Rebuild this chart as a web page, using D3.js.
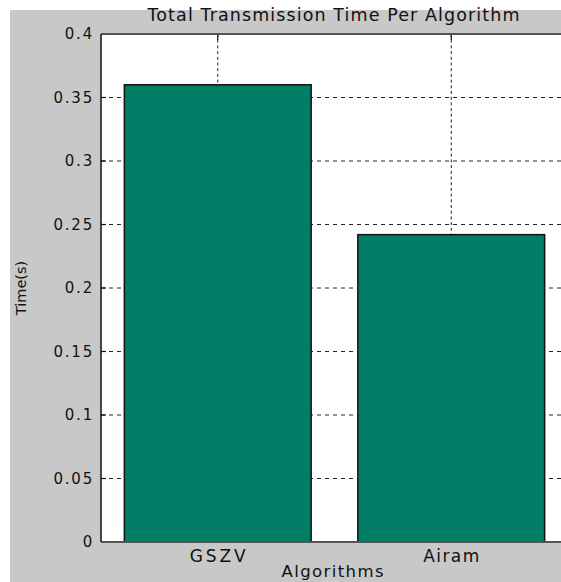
<!DOCTYPE html>
<html>
<head>
<meta charset="utf-8">
<script src="https://cdn.jsdelivr.net/npm/d3@7"></script>
<style>
  html, body { margin: 0; padding: 0; background: #fff; }
  svg { display: block; }
</style>
</head>
<body>
<div id="root"></div>
<script>
const categories = ['GSZV', 'Airam'];
const times = [0.36, 0.242];
const yTicks = [0, 0.05, 0.1, 0.15, 0.2, 0.25, 0.3, 0.35, 0.4];
const yTickLabels = ['0', '0.05', '0.1', '0.15', '0.2', '0.25', '0.3', '0.35', '0.4'];

const dimensions = {
  width: 561,
  height: 582,
  margin: { top: 34, right: -7, bottom: 40, left: 101 },
};
dimensions.boundedWidth =
  dimensions.width - (dimensions.margin.left + dimensions.margin.right);
dimensions.boundedHeight =
  dimensions.height - (dimensions.margin.top + dimensions.margin.bottom);

const xScale = d3
  .scaleBand()
  .domain(categories)
  .range([0, dimensions.boundedWidth])
  .paddingInner(0.2)
  .paddingOuter(0.1);

const yScale = d3
  .scaleLinear()
  .domain([0, 0.4])
  .range([dimensions.boundedHeight, 0]);

const wrapper = d3
  .select('#root')
  .append('svg')
  .attr('width', dimensions.width)
  .attr('height', dimensions.height)
  .attr('viewBox', [0, 0, dimensions.width, dimensions.height]);

// figure background
wrapper
  .append('rect')
  .attr('x', 10)
  .attr('y', 10)
  .attr('width', dimensions.width - 10)
  .attr('height', dimensions.height - 10)
  .attr('fill', '#c8c8c8');

const bounds = wrapper
  .append('g')
  .attr('transform', `translate(${dimensions.margin.left},${dimensions.margin.top})`);

bounds
  .append('rect')
  .attr('width', dimensions.boundedWidth)
  .attr('height', dimensions.boundedHeight)
  .attr('fill', '#fff');

// grid
const gridGroup = bounds.append('g');
gridGroup
  .selectAll('line.hgrid')
  .data(yTicks.slice(1, -1))
  .join('line')
  .attr('class', 'hgrid')
  .attr('x1', 0)
  .attr('x2', dimensions.boundedWidth)
  .attr('y1', d => yScale(d))
  .attr('y2', d => yScale(d))
  .attr('stroke', '#222')
  .attr('stroke-width', 1)
  .attr('stroke-dasharray', '4,4');

gridGroup
  .selectAll('line.vgrid')
  .data(categories)
  .join('line')
  .attr('class', 'vgrid')
  .attr('x1', d => xScale(d) + xScale.bandwidth() / 2)
  .attr('x2', d => xScale(d) + xScale.bandwidth() / 2)
  .attr('y1', 0)
  .attr('y2', dimensions.boundedHeight)
  .attr('stroke', '#222')
  .attr('stroke-width', 1)
  .attr('stroke-dasharray', '3,2.7');

// bars
bounds
  .selectAll('rect.bar')
  .data(categories)
  .join('rect')
  .attr('class', 'bar')
  .attr('x', d => xScale(d))
  .attr('y', (d, i) => yScale(times[i]))
  .attr('width', xScale.bandwidth())
  .attr('height', (d, i) => dimensions.boundedHeight - yScale(times[i]))
  .attr('fill', '#007f66')
  .attr('stroke', '#111')
  .attr('stroke-width', 1.5);

// tick marks pointing inward
const tickGroup = bounds.append('g').attr('stroke', '#111').attr('stroke-width', 1.2);
tickGroup
  .selectAll('line.ytick')
  .data(yTicks)
  .join('line')
  .attr('x1', 0)
  .attr('x2', 5)
  .attr('y1', d => yScale(d))
  .attr('y2', d => yScale(d));
tickGroup
  .selectAll('line.xtick')
  .data(categories)
  .join('line')
  .attr('x1', d => xScale(d) + xScale.bandwidth() / 2)
  .attr('x2', d => xScale(d) + xScale.bandwidth() / 2)
  .attr('y1', 0)
  .attr('y2', 6);

// axes frame
bounds
  .append('line')
  .attr('x1', 0)
  .attr('x2', dimensions.boundedWidth)
  .attr('y1', 0)
  .attr('y2', 0)
  .attr('stroke', '#555')
  .attr('stroke-width', 2);
bounds
  .append('line')
  .attr('x1', 0)
  .attr('x2', dimensions.boundedWidth)
  .attr('y1', dimensions.boundedHeight)
  .attr('y2', dimensions.boundedHeight)
  .attr('stroke', '#555')
  .attr('stroke-width', 2);
bounds
  .append('line')
  .attr('x1', 0)
  .attr('x2', 0)
  .attr('y1', 0)
  .attr('y2', dimensions.boundedHeight)
  .attr('stroke', '#111')
  .attr('stroke-width', 1.5);

// y tick labels
const yAxisGenerator = d3
  .axisLeft(yScale)
  .tickValues(yTicks)
  .tickFormat((d, i) => yTickLabels[i])
  .tickSize(0)
  .tickPadding(6);
const yAxisGroup = bounds.append('g').call(yAxisGenerator);
yAxisGroup.select('path').remove();
yAxisGroup
  .selectAll('g.tick text')
  .attr('font-family', 'DejaVu Sans, sans-serif')
  .attr('font-size', 15)
  .attr('letter-spacing', 1.8)
  .attr('x', -7)
  .attr('fill', '#111');

// x tick labels
const xAxisGenerator = d3.axisBottom(xScale).tickSize(0).tickPadding(8);
const xAxisGroup = bounds
  .append('g')
  .attr('transform', `translate(0,${dimensions.boundedHeight})`)
  .call(xAxisGenerator);
xAxisGroup.select('path').remove();
xAxisGroup
  .selectAll('g.tick text')
  .attr('font-family', 'DejaVu Sans, sans-serif')
  .attr('font-size', 17)
  .attr('textLength', 56)
  .attr('lengthAdjust', 'spacing')
  .attr('fill', '#111');

// title and labels
const fullCenter = dimensions.margin.left + dimensions.boundedWidth / 2;
wrapper
  .append('text')
  .attr('x', fullCenter - 1)
  .attr('y', 21)
  .attr('text-anchor', 'middle')
  .attr('font-family', 'DejaVu Sans, sans-serif')
  .attr('font-size', 17.5)
  .attr('textLength', 372)
  .attr('lengthAdjust', 'spacing')
  .attr('fill', '#111')
  .text('Total Transmission Time Per Algorithm');

wrapper
  .append('text')
  .attr('x', fullCenter - 2)
  .attr('y', 577)
  .attr('text-anchor', 'middle')
  .attr('font-family', 'DejaVu Sans, sans-serif')
  .attr('font-size', 16.5)
  .attr('textLength', 102)
  .attr('lengthAdjust', 'spacing')
  .attr('fill', '#111')
  .text('Algorithms');

wrapper
  .append('text')
  .attr('transform', `translate(26,${dimensions.margin.top + dimensions.boundedHeight / 2}) rotate(-90)`)
  .attr('text-anchor', 'middle')
  .attr('font-family', 'DejaVu Sans, sans-serif')
  .attr('font-size', 14.5)
  .attr('fill', '#111')
  .text('Time(s)');
</script>
</body>
</html>
